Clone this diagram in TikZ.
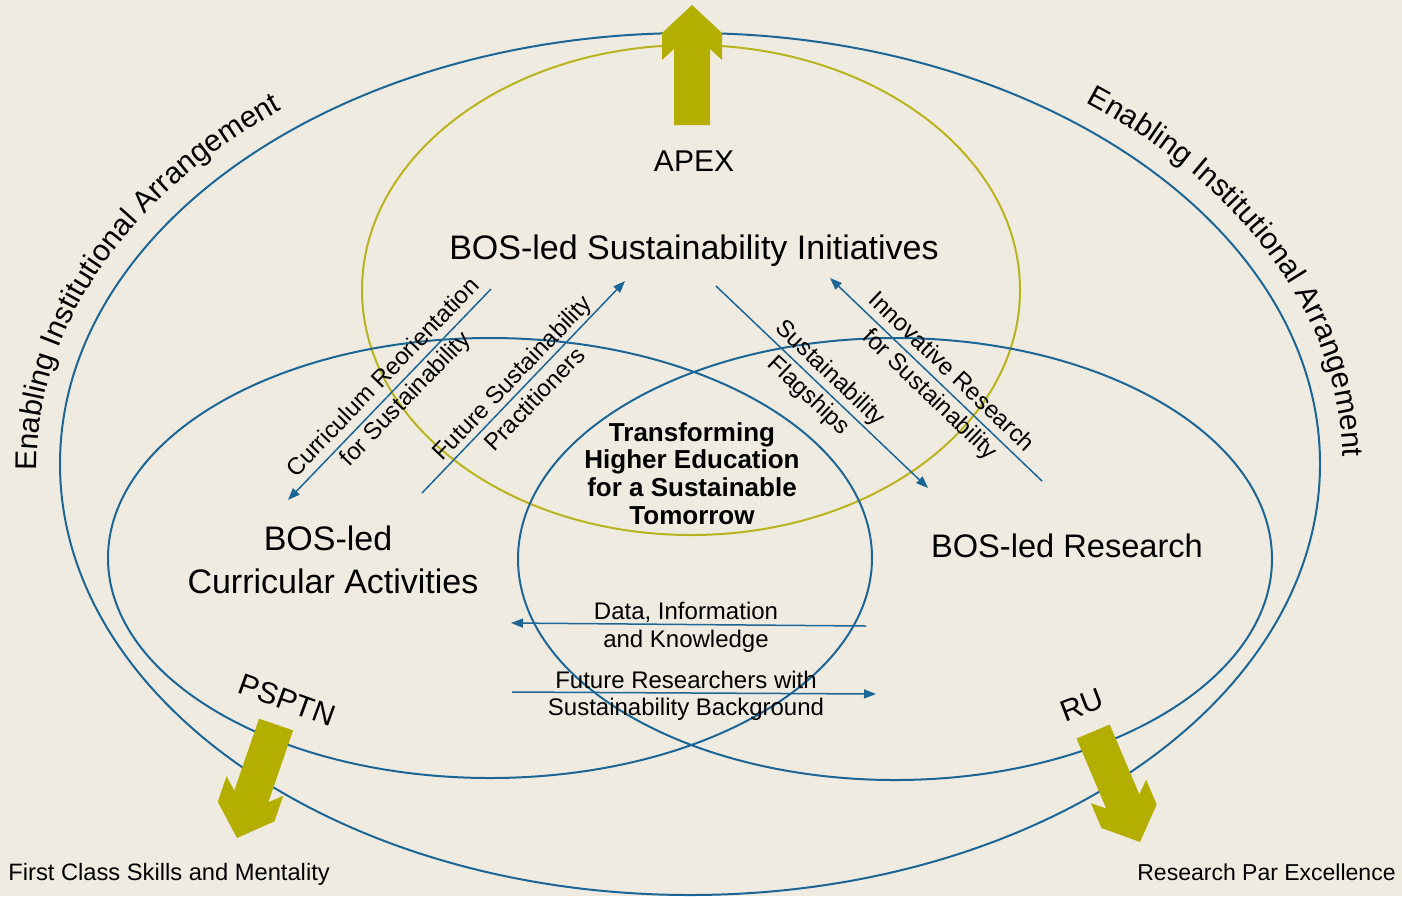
\documentclass[tikz,border=0pt]{standalone}
\usepackage{fontspec}
\setmainfont{Liberation Sans}
\usetikzlibrary{arrows.meta,decorations.text}
\definecolor{bgcol}{RGB}{239,235,225}
\definecolor{ebblue}{RGB}{27,102,150}
\definecolor{olivefill}{RGB}{179,174,0}
\definecolor{oliveline}{RGB}{185,180,30}
\tikzset{
  bigarrowshape/.pic={\fill[olivefill] (0,0) -- (30,-28) -- (30,-55) -- (18,-44) -- (18,-120) -- (-18,-120) -- (-18,-44) -- (-30,-55) -- (-30,-28) -- cycle;},
}
\begin{document}
\begin{tikzpicture}[x=0.5pt,y=-0.5pt,
  blueell/.style={draw=ebblue,line width=1pt},
  oliveell/.style={draw=oliveline,line width=1pt},
  flow/.style={draw=ebblue,line width=0.75pt,-{Triangle[length=6pt,width=4.5pt]}},
  lbl/.style={inner sep=0pt,text=black},
  big/.style={lbl,font=\fontsize{17}{21}\selectfont},
  mid/.style={lbl,font=\fontsize{12}{15}\selectfont},
  diag/.style={lbl,align=center,font=\fontsize{12}{15.5}\selectfont},
  core/.style={lbl,font=\fontsize{13}{14}\selectfont\bfseries},
  arrlbl/.style={lbl,font=\fontsize{15}{18}\selectfont},
]
\fill[bgcol] (0,0) rectangle (1402,896);
\useasboundingbox (0,0) rectangle (1402,896);

% ellipses
\draw[blueell] (690,464) ellipse [x radius=630, y radius=431];
\draw[oliveell] (691,290) ellipse [x radius=329, y radius=245];
\draw[blueell] (490,558) ellipse [x radius=382, y radius=220];
\draw[blueell] (895,559) ellipse [x radius=377, y radius=221];

% curved labels
\path[decorate,decoration={text along path,text align=center,
  text={|\fontsize{15}{18}\selectfont|Enabling Institutional Arrangement}}]
  (690,464) ++(164.5:653 and 454) arc[start angle=164.5,end angle=242.5,x radius=653,y radius=454];
\path[decorate,decoration={text along path,text align=center,
  text={|\fontsize{15}{18}\selectfont|Enabling Institutional Arrangement}}]
  (690,464) ++(-64:653 and 454) arc[start angle=-64,end angle=14,x radius=653,y radius=454];

% main labels
\node[lbl,font=\fontsize{15}{18}\selectfont,anchor=base] (apex) at (694,171) {APEX};
\node[big,anchor=base] (bosinit) at (694,259) {BOS-led Sustainability Initiatives};
\node[big,anchor=base] (boscur1) at (328,550) {BOS-led};
\node[big,anchor=base] (boscur2) at (333,593) {Curricular Activities};
\node[lbl,font=\fontsize{16.3}{20}\selectfont,anchor=base] (bosres) at (1067,557) {BOS-led Research};

\node[core,anchor=base] (t1) at (692,441) {Transforming};
\node[core,anchor=base] (t2) at (692,468) {Higher Education};
\node[core,anchor=base] (t3) at (692,496) {for a Sustainable};
\node[core,anchor=base] (t4) at (692,524) {Tomorrow};

% diagonal flows
\coordinate (c1s) at (491,289); \coordinate (c1e) at (288,500);
\coordinate (c2s) at (422,493); \coordinate (c2e) at (625,281);
\coordinate (c3s) at (716,286); \coordinate (c3e) at (928,488);
\coordinate (c4s) at (1042,481); \coordinate (c4e) at (830,278);
\draw[flow] (c1s) -- (c1e);
\draw[flow] (c2s) -- (c2e);
\draw[flow] (c3s) -- (c3e);
\draw[flow] (c4s) -- (c4e);
\node[diag,rotate=46] (curlbl) at (395,389) {Curriculum Reorientation\\for Sustainability};
\node[diag,rotate=46.2] (futlbl) at (523,388) {Future Sustainability\\Practitioners};
\node[diag,rotate=-43.6] (flaglbl) at (819,385) {Sustainability\\Flagships};
\node[diag,rotate=-43.7] (innlbl) at (940,384) {Innovative Research\\for Sustainability};

% horizontal flows
\coordinate (h1s) at (866,626); \coordinate (h1e) at (511,623);
\coordinate (h2s) at (512,692); \coordinate (h2e) at (876,694);
\draw[flow] (h1s) -- (h1e);
\draw[flow] (h2s) -- (h2e);
\node[mid,anchor=base] (d1) at (686,619) {Data, Information};
\node[mid,anchor=base] (d2) at (686,647) {and Knowledge};
\node[mid,anchor=base] (f1) at (686,688) {Future Researchers with};
\node[mid,anchor=base] (f2) at (686,715) {Sustainability Background};

% big output arrows
\pic[rotate=180] at (692,5) {bigarrowshape};
\pic[rotate=-19] at (237,838) {bigarrowshape};
\pic[rotate=23] at (1140,842) {bigarrowshape};
\node[arrlbl,rotate=-20] (psptn) at (287,700) {PSPTN};
\node[arrlbl,rotate=21] (ru) at (1082,705) {RU};

% outcomes
\node[lbl,font=\fontsize{11.85}{15}\selectfont,anchor=base west] (out1) at (8,880) {First Class Skills and Mentality};
\node[lbl,font=\fontsize{11.5}{15}\selectfont,anchor=base east] (out2) at (1396,880) {Research Par Excellence};
\end{tikzpicture}
\end{document}
